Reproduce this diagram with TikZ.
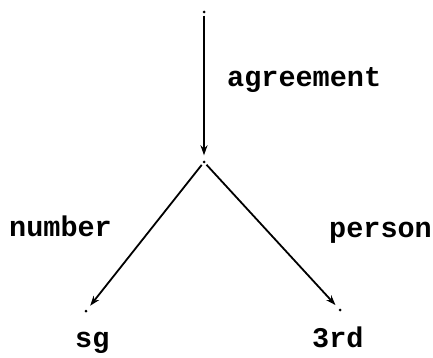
\documentclass[tikz,border=0pt]{standalone}
\usepackage{fontspec}
\setmonofont{Liberation Mono}
\usetikzlibrary{arrows.meta}
\begin{document}
\begin{tikzpicture}[x=1pt,y=-1pt,
  dot/.style={circle,fill=black,inner sep=0pt,minimum size=3pt},
  lbl/.style={font=\ttfamily\bfseries\fontsize{28.5}{31}\selectfont,inner sep=0pt,anchor=base west},
  edge/.style={line width=1.8pt,-{Stealth[length=10pt,width=7pt]},shorten >=5pt,shorten <=2pt}]
\useasboundingbox (0,0) rectangle (433,358);
\node[dot] (top) at (204,12) {};
\node[dot] (mid) at (204,162) {};
\node[dot] (sg) at (86,311) {};
\node[dot] (rd) at (340,310) {};
\draw[edge] (top) -- (mid);
\draw[edge] (mid) -- (sg);
\draw[edge] (mid) -- (rd);
\node[lbl] (la) at (227,87) {agreement};
\node[lbl] (ln) at (9,236) {number};
\node[lbl] (lp) at (329,237) {person};
\node[lbl] (tsg) at (75,347) {sg};
\node[lbl] (t3) at (312,347) {3rd};
\end{tikzpicture}
\end{document}
